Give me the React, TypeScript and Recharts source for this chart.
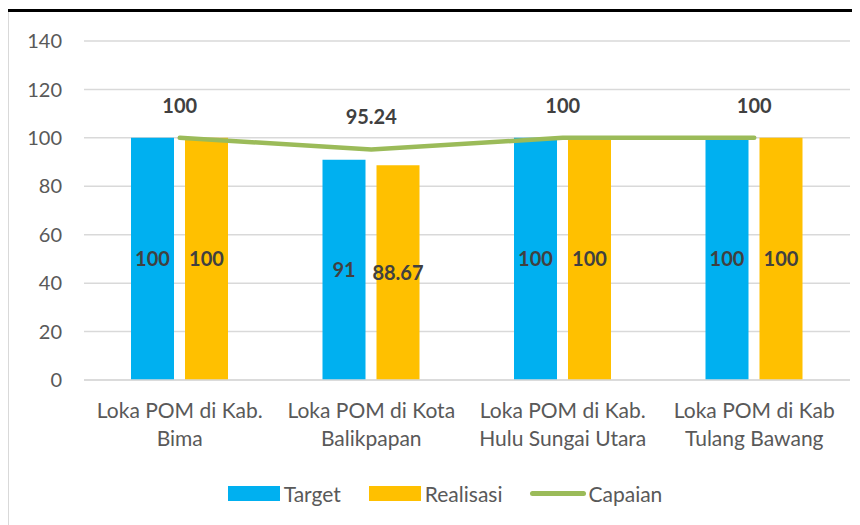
import { Bar, CartesianGrid, ComposedChart, LabelList, Legend, Line, XAxis, YAxis } from "recharts";

const categories = [
  "Loka POM di Kab.\nBima",
  "Loka POM di Kota\nBalikpapan",
  "Loka POM di Kab.\nHulu Sungai Utara",
  "Loka POM di Kab\nTulang Bawang",
];
const target = [100, 91, 100, 100];
const realisasi = [100, 88.67, 100, 100];
const capaian = [100, 95.24, 100, 100];
const yTicks = [0, 20, 40, 60, 80, 100, 120, 140];
const seriesOrder = ["Target", "Realisasi", "Capaian"];

const data = categories.map((name, i) => ({
  name,
  target: target[i],
  realisasi: realisasi[i],
  capaian: capaian[i],
}));

const FONT = "Lato, 'Noto Sans', sans-serif";

function CategoryTick({ x, y, payload }: any) {
  const lines = String(payload.value).split("\n");
  return (
    <text x={x} y={y} textAnchor="middle" fill="#595959" fontSize={21} fontFamily={FONT}>
      {lines.map((line, i) => (
        <tspan key={i} x={x} dy={i === 0 ? 30 : 28}>
          {line}
        </tspan>
      ))}
    </text>
  );
}

function LegendContent({ payload }: any) {
  const items = [...(payload || [])].sort(
    (a: any, b: any) => seriesOrder.indexOf(a.value) - seriesOrder.indexOf(b.value)
  );
  return (
    <div
      style={{
        height: 40,
        display: "flex",
        alignItems: "center",
        justifyContent: "center",
        paddingLeft: 40,
        fontFamily: FONT,
        fontSize: 21,
        color: "#595959",
      }}
    >
      {items.map((item: any, i: number) => (
        <div key={item.value} style={{ display: "flex", alignItems: "center", marginRight: i < items.length - 1 ? 28 : 0 }}>
          {item.type === "line" ? (
            <div style={{ width: 56, height: 5, borderRadius: 3, background: item.color, marginRight: 2 }} />
          ) : (
            <div style={{ width: 52, height: 15, background: item.color, marginRight: 4 }} />
          )}
          <span>{item.value}</span>
        </div>
      ))}
    </div>
  );
}

export default function App() {
  return (
    <div style={{ position: "relative", width: 860, height: 525, margin: "-8px 0 0 -8px", background: "#fff", overflow: "hidden" }}>
      <div style={{ position: "absolute", left: 0, top: 9, width: 860, height: 3, background: "#000" }} />
      <div style={{ position: "absolute", left: 7, top: 12, width: 2, bottom: 0, background: "#D9D9D9" }} />
      <ComposedChart
        width={860}
        height={525}
        data={data}
        margin={{ top: 41, right: 10, left: 0, bottom: 12 }}
        barSize={43}
        barGap={11}
      >
        <CartesianGrid vertical={false} stroke="#D9D9D9" strokeWidth={1.5} />
        <XAxis
          dataKey="name"
          height={93}
          axisLine={{ stroke: "#D9D9D9", strokeWidth: 1.5 }}
          tickLine={false}
          tick={<CategoryTick />}
          interval={0}
        />
        <YAxis
          width={84}
          domain={[0, 140]}
          ticks={yTicks}
          axisLine={false}
          tickLine={false}
          tickMargin={16}
          tick={{ fill: "#595959", fontSize: 20, fontFamily: FONT }}
        />
        <Legend verticalAlign="bottom" content={<LegendContent />} />
        <Bar dataKey="target" name="Target" fill="#00B0F0" isAnimationActive={false} legendType="rect">
          <LabelList dataKey="target" position="center" fill="#404040" fontSize={20} fontWeight="bold" fontFamily={FONT} />
        </Bar>
        <Bar dataKey="realisasi" name="Realisasi" fill="#FFC000" isAnimationActive={false} legendType="rect">
          <LabelList dataKey="realisasi" position="center" fill="#404040" fontSize={20} fontWeight="bold" fontFamily={FONT} />
        </Bar>
        <Line
          dataKey="capaian"
          name="Capaian"
          type="linear"
          stroke="#9BBB59"
          strokeWidth={4.5}
          strokeLinecap="round"
          dot={false}
          activeDot={false}
          legendType="line"
          isAnimationActive={false}
        >
          <LabelList dataKey="capaian" position="top" offset={25} fill="#404040" fontSize={20} fontWeight="bold" fontFamily={FONT} />
        </Line>
      </ComposedChart>
    </div>
  );
}
